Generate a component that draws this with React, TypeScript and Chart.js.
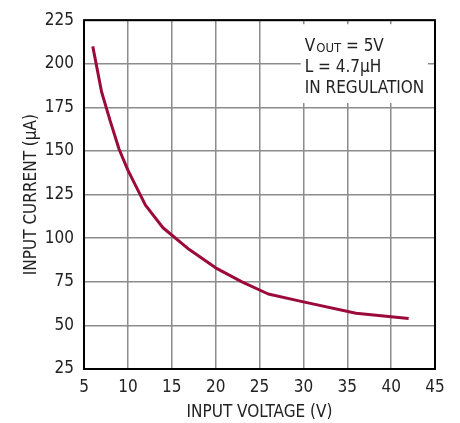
import React, { useEffect, useRef } from "react";
import { Chart, registerables } from "chart.js";

Chart.register(...registerables);

const inputVoltage = [6, 7, 8, 9, 10, 12, 14, 17, 20, 23, 26, 30, 36, 42];
const inputCurrent = [210, 184, 167, 151, 139, 119, 106, 93.5, 83, 75, 68, 63.5, 57, 54];
const xTicks = [5, 10, 15, 20, 25, 30, 35, 40, 45];
const yTicks = [25, 50, 75, 100, 125, 150, 175, 200, 225];
const noteLines = ["L = 4.7µH", "IN REGULATION"];

const FONT = "'DejaVu Sans Condensed', 'Liberation Sans Narrow', sans-serif";

const framePlugin = {
  id: "frame",
  beforeDatasetsDraw(chart: any) {
    const { ctx } = chart;
    const xs = chart.scales.x;
    const ys = chart.scales.y;
    ctx.save();
    const bx0 = xs.getPixelForValue(29.7);
    const bx1 = xs.getPixelForValue(44.2);
    const by0 = ys.getPixelForValue(222.7);
    const by1 = ys.getPixelForValue(177.5);
    ctx.fillStyle = "#ffffff";
    ctx.fillRect(bx0, by0, bx1 - bx0, by1 - by0);
    ctx.fillStyle = "#222";
    ctx.textBaseline = "alphabetic";
    ctx.textAlign = "left";
    const tx = bx0 + 4;
    const base1 = by0 + 26.3;
    ctx.font = `17px ${FONT}`;
    ctx.fillText("V", tx, base1);
    const vw = ctx.measureText("V").width;
    ctx.font = `13px ${FONT}`;
    ctx.fillText("OUT", tx + vw + 1, base1 + 1.5);
    const ow = ctx.measureText("OUT").width;
    ctx.font = `17px ${FONT}`;
    ctx.fillText(" = 5V", tx + vw + 1 + ow, base1);
    noteLines.forEach((t, i) => {
      ctx.fillText(t, tx, base1 + 21.3 * (i + 1));
    });
    ctx.restore();
  },
  afterDraw(chart: any) {
    const { ctx, chartArea } = chart;
    ctx.save();
    ctx.strokeStyle = "#000";
    ctx.lineWidth = 2;
    ctx.strokeRect(chartArea.left, chartArea.top, chartArea.right - chartArea.left, chartArea.bottom - chartArea.top);
    ctx.restore();
  },
};

export default function App() {
  const ref = useRef<HTMLCanvasElement | null>(null);
  useEffect(() => {
    document.body.style.margin = "0";
    if (!ref.current) return;
    const chart = new Chart(ref.current, {
      type: "line",
      data: {
        datasets: [
          {
            data: inputVoltage.map((v, i) => ({ x: v, y: inputCurrent[i] })),
            borderColor: "#9b0a3a",
            borderWidth: 3,
            pointRadius: 0,
            tension: 0,
            borderJoinStyle: "round",
            fill: false,
          },
        ],
      },
      options: {
        animation: false,
        responsive: false,
        maintainAspectRatio: false,
        devicePixelRatio: 1,
        layout: { padding: { left: 0, right: 25, top: 18, bottom: 0 } },
        plugins: { legend: { display: false }, tooltip: { enabled: false } },
        scales: {
          x: {
            type: "linear",
            min: 5,
            max: 45,
            afterBuildTicks: (s: any) => {
              s.ticks = xTicks.map((v) => ({ value: v }));
            },
            afterFit: (s: any) => {
              s.height = 54;
            },
            grid: { color: "#8c8c8c", lineWidth: 1.5, drawTicks: false },
            border: { display: false },
            ticks: { color: "#222", padding: 8, font: { family: FONT, size: 17 }, maxRotation: 0 },
            title: {
              display: true,
              text: "INPUT VOLTAGE (V)",
              color: "#222",
              font: { family: FONT, size: 17 },
              padding: { top: 0, bottom: 0 },
            },
          },
          y: {
            type: "linear",
            min: 25,
            max: 225,
            afterBuildTicks: (s: any) => {
              s.ticks = yTicks.map((v) => ({ value: v }));
            },
            afterFit: (s: any) => {
              s.width = 84;
            },
            grid: { color: "#8c8c8c", lineWidth: 1.5, drawTicks: false },
            border: { display: false },
            ticks: { color: "#222", padding: 10, font: { family: FONT, size: 17 } },
            title: {
              display: true,
              text: "INPUT CURRENT (µA)",
              color: "#222",
              font: { family: FONT, size: 17 },
              padding: { top: 21, bottom: 0 },
            },
          },
        },
      },
      plugins: [framePlugin],
    });
    return () => chart.destroy();
  }, []);
  return (
    <div style={{ width: 460, height: 423 }}>
      <canvas ref={ref} width={460} height={423} style={{ width: 460, height: 423, display: "block" }} />
    </div>
  );
}
